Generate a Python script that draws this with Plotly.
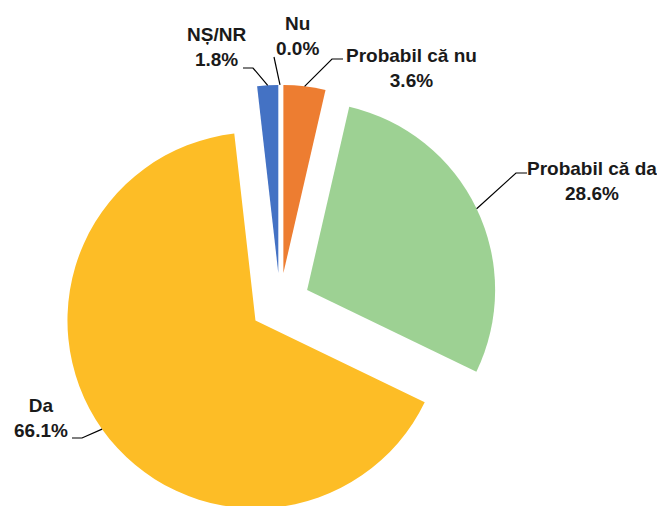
import math
import plotly.graph_objects as go

# ---- data ----
categories = ["Nu", "Probabil că nu", "Probabil că da", "Da", "NȘ/NR"]
values = [0.0, 3.6, 28.6, 66.1, 1.8]
value_labels = ["0.0%", "3.6%", "28.6%", "66.1%", "1.8%"]
colors = ["#A5A5A5", "#ED7D31", "#9DD193", "#FDBD26", "#4472C4"]

# ---- layout (pixels, page coordinates) ----
OFF = 8            # page body margin offset
W, H = 665, 522    # figure size (bottom of pie runs past window edge)
PULL = 0.16
R = 188.0
CX = 280.0 - OFF   # pie centre in figure px
CY = 303.0 - OFF
BOX = 2 * R * (1 + PULL)

# label text centres, leader start, optional elbow (page pixels)
label_pos = {
    "Nu": ((297, 36), (274, 57), None),
    "Probabil că nu": ((411, 68), (343, 59), (332, 59)),
    "Probabil că da": ((592, 181), (527, 173), (516, 173)),
    "Da": ((41, 418), (72, 438), (82, 438)),
    "NȘ/NR": ((216, 47), (243, 68), (253, 68)),
}

def px(x):
    return x / W

def py(y):
    return 1 - y / H

fig = go.Figure(
    go.Pie(
        labels=categories,
        values=values,
        marker=dict(colors=colors, line=dict(width=0)),
        sort=False,
        direction="clockwise",
        rotation=0,
        pull=[PULL] * len(values),
        textinfo="none",
        hoverinfo="label+value",
        showlegend=False,
        domain=dict(
            x=[(CX - BOX / 2) / W, (CX + BOX / 2) / W],
            y=[1 - (CY + BOX / 2) / H, 1 - (CY - BOX / 2) / H],
        ),
    )
)

total = sum(values)
cum = 0.0
annotations = []
shapes = []
for cat, v, vl in zip(categories, values, value_labels):
    mid = (cum + v / 2) / total * 2 * math.pi
    cum += v
    rr = R * (1 + PULL)
    ex = CX + rr * math.sin(mid)
    ey = CY - rr * math.cos(mid)
    (tx, ty), start, elbow = label_pos[cat]
    annotations.append(
        dict(
            x=px(tx - OFF), y=py(ty - OFF), xref="paper", yref="paper",
            text=f"{cat}<br>{vl}", showarrow=False,
            xanchor="center", yanchor="middle", align="center",
            font=dict(family="Liberation Sans, Arial, sans-serif", size=19,
                      color="#1a1a1a", weight="bold"),
        )
    )
    pts = [(start[0] - OFF, start[1] - OFF)]
    if elbow:
        pts.append((elbow[0] - OFF, elbow[1] - OFF))
    pts.append((ex, ey))
    path = "M " + " L ".join(f"{px(a):.5f},{py(b):.5f}" for a, b in pts)
    shapes.append(
        dict(type="path", path=path, xref="paper", yref="paper",
             line=dict(color="#000000", width=1.2))
    )

fig.update_layout(
    width=W, height=H,
    margin=dict(l=0, r=0, t=0, b=0),
    paper_bgcolor="white",
    plot_bgcolor="white",
    annotations=annotations,
    shapes=shapes,
)

fig.write_html("out.html")
